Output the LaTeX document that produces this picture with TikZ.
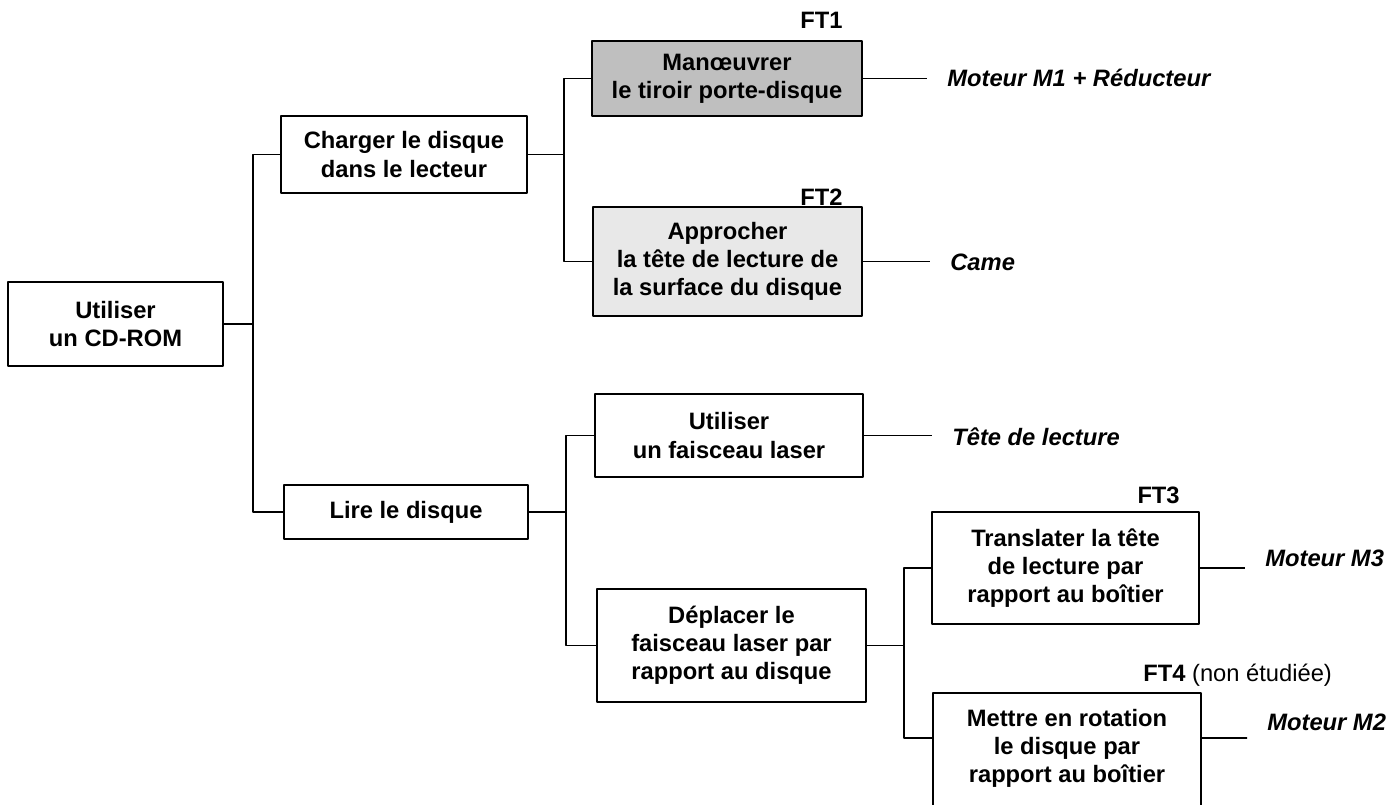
\documentclass[tikz,border=0pt]{standalone}
\usepackage{fontspec}
\setmainfont{Liberation Sans}
\begin{document}
\begin{tikzpicture}[x=0.02cm,y=-0.02cm,line join=round,
	fct/.style={draw,line width=1.2pt,align=center,inner sep=2pt,font=\fontsize{13.5}{16}\selectfont\bfseries},
	sol/.style={anchor=west,inner xsep=0.4cm,inner ysep=0pt,font=\fontsize{13.5}{16}\selectfont\bfseries\itshape},
	ft/.style={inner sep=0pt,font=\fontsize{13.5}{16}\selectfont\bfseries},
	lien/.style={line width=1pt}]
	\useasboundingbox (0,0) rectangle (1398,804);
	\clip (0,0) rectangle (1398,804);
	% fonctions
	\node[fct,minimum width=4.30cm,minimum height=1.68cm] (cdrom) at (115.5,324) {Utiliser\\un CD-ROM};
	\node[fct,minimum width=4.92cm,minimum height=1.54cm] (charger) at (404,154.5) {Charger le disque\\dans le lecteur};
	\node[fct,minimum width=4.88cm,minimum height=1.08cm] (lire) at (406,512) {Lire le disque};
	\node[fct,fill=black!25,minimum width=5.40cm,minimum height=1.50cm] (tiroir) at (727,78.5) {Manœuvrer\\le tiroir porte-disque};
	\node[fct,fill=black!9,minimum width=5.38cm,minimum height=2.18cm] (approcher) at (727.5,261.5) {Approcher\\la tête de lecture de\\la surface du disque};
	\node[fct,minimum width=5.36cm,minimum height=1.66cm] (laser) at (729,435.5) {Utiliser\\un faisceau laser};
	\node[fct,minimum width=5.38cm,minimum height=2.26cm] (deplacer) at (731.5,645.5) {Déplacer le\\faisceau laser par\\rapport au disque};
	\node[fct,minimum width=5.34cm,minimum height=2.24cm] (translater) at (1065.5,568) {Translater la tête\\de lecture par\\rapport au boîtier};
	\node[fct,minimum width=5.36cm,minimum height=2.44cm] (rotation) at (1067,754) {Mettre en rotation\\le disque par\\rapport au boîtier\\[-7pt]\mbox{}};
	% FT
	\node[ft,anchor=base east] (ft1) at (843,29) {FT1};
	\node[ft,anchor=base east] (ft2) at (843,205) {FT2};
	\node[ft,anchor=base east] (ft3) at (1180,503) {FT3};
	\node[ft,anchor=base west] (ft4) at (1143,681) {FT4 {\mdseries(non étudiée)}};
	% solutions
	\node[sol] (m1) at (927,78) {Moteur M1 + Réducteur};
	\node[sol] (came) at (930,262) {Came};
	\node[sol] (tete) at (932,437) {Tête de lecture};
	\node[sol] (m3) at (1245,558) {Moteur M3};
	\node[sol] (m2) at (1247,722) {Moteur M2};
	% liaisons
	\draw[lien] (cdrom.east) -- +(29,0) |- (charger.west);
	\draw[lien] (cdrom.east) -- +(29,0) |- (lire.west);
	\draw[lien] (charger.east) -- +(36,0) |- (tiroir.west);
	\draw[lien] (charger.east) -- +(36,0) |- (approcher.west);
	\draw[lien] (lire.east) -- +(37,0) |- (laser.west);
	\draw[lien] (lire.east) -- +(37,0) |- (deplacer.west);
	\draw[lien] (deplacer.east) -- +(37,0) |- (translater.west);
	\draw[lien] (deplacer.east) -- +(37,0) |- ([yshift=0.32cm]rotation.west);
	\draw[lien] (tiroir.east) -- (m1.west |- tiroir.east);
	\draw[lien] (approcher.east) -- (came.west |- approcher.east);
	\draw[lien] (laser.east) -- (tete.west |- laser.east);
	\draw[lien] (translater.east) -- (m3.west |- translater.east);
	\draw[lien] ([yshift=0.32cm]rotation.east) -- ([yshift=-0.32cm]m2.west);
\end{tikzpicture}
\end{document}
